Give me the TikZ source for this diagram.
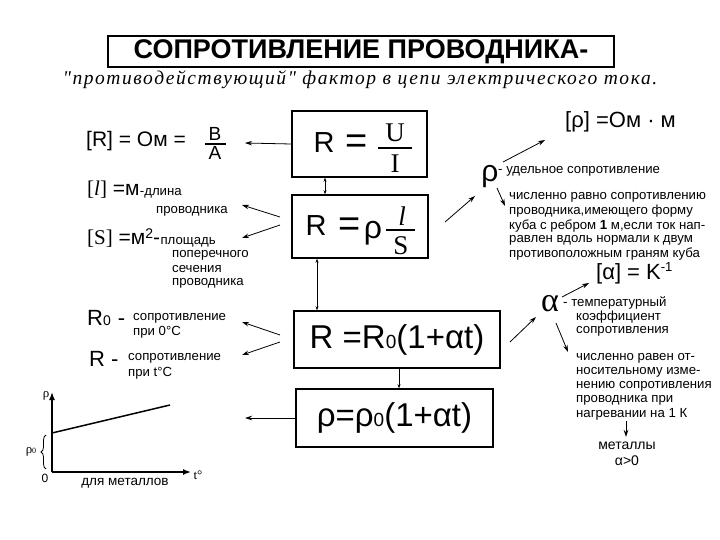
\documentclass[tikz,border=0pt]{standalone}
\usepackage{fontspec}
\setmainfont{Liberation Sans}
\newfontfamily\serif{Liberation Serif}
\newfontfamily\subfont[LetterSpace=8]{Liberation Serif}
\usetikzlibrary{arrows.meta,decorations.pathreplacing}
\newcommand\fs[1]{\fontsize{#1}{#1}\selectfont}
\begin{document}
\begin{tikzpicture}[x=1pt,y=-1pt,
  box/.style={draw,line width=1.4pt,inner sep=0pt},
  arr/.style={-{Stealth[length=7pt,width=4.5pt]},line width=0.8pt},
  sarr/.style={{Stealth[length=4pt,width=3pt]}-{Stealth[length=4pt,width=3pt]},line width=0.8pt},
  darr/.style={-{Stealth[length=4pt,width=3pt]},line width=0.8pt},
  small/.style={anchor=west,inner sep=0pt,font=\fs{13.2}},
  bigt/.style={inner sep=0pt,font=\fs{21}},
  fbar/.style={line width=1.6pt},
  axis/.style={line width=1.5pt,-{Latex[length=8pt,width=6pt]}}
]
\useasboundingbox (0,0) rectangle (720,540);

% title
\node[box,minimum width=506,minimum height=31,font=\bfseries\fs{27}] (title) at (361,51.5) {СОПРОТИВЛЕНИЕ ПРОВОДНИКА-};
\node[inner sep=0pt,font=\subfont\itshape\fs{19.5}] (sub) at (360,80) {"противодействующий" фактор в цепи электрического тока.};

% boxes
\node[box,minimum width=135,minimum height=66] (b1) at (359.5,144) {};
\node[inner sep=0pt,font=\fs{29}] (b1R) at (324,143) {R};
\node[inner sep=0pt,font=\fs{38}] (b1eq) at (357,144) {=};
\node[inner sep=0pt,font=\serif\fs{27}] (b1U) at (395,133) {U};
\node[inner sep=0pt,font=\serif\fs{27}] (b1I) at (395,164) {I};
\draw[fbar] (378,148) coordinate (f1a) -- (412,148) coordinate (f1b);

\node[box,minimum width=136,minimum height=63] (b2) at (360,226.5) {};
\node[inner sep=0pt,font=\fs{29}] (b2R) at (316,226) {R};
\node[inner sep=0pt,font=\fs{38}] (b2eq) at (350,227) {=};
\node[inner sep=0pt,font=\fs{32}] (b2rho) at (373,233) {ρ};
\node[inner sep=0pt,font=\serif\itshape\fs{27}] (b2l) at (402,216) {l};
\node[inner sep=0pt,font=\serif\fs{27}] (b2S) at (401,246) {S};
\draw[fbar] (386,230) coordinate (f2a) -- (415,230) coordinate (f2b);

\node[box,minimum width=206,minimum height=57,font=\fs{33}] (b3) at (397,339.5) {R =R{\fs{19}0}(1+αt)};
\node[box,minimum width=197,minimum height=58,font=\fs{33}] (b4) at (394.5,418) {ρ=ρ{\fs{19}0}(1+αt)};

\draw[sarr] ([xshift=-34.5pt]b1.south) -- ([xshift=-35pt]b2.north);
\draw[sarr] ([xshift=-43pt]b2.south) -- ([xshift=-80pt]b3.north);
\draw[darr] ([xshift=2pt]b3.south) -- ([xshift=4.5pt]b4.north);

% left side
\node[bigt,anchor=west] (Ru) at (86,141) {[R] = Ом =};
\node[inner sep=0pt,font=\fs{19}] (uB) at (215,134) {В};
\node[inner sep=0pt,font=\fs{19}] (uA) at (215,153) {А};
\draw[line width=1.2pt] (205,144) coordinate (f3a) -- (226,144) coordinate (f3b);
\coordinate (a1) at (245,143);
\draw[arr] (b1.west) -- (a1);

\node[bigt,anchor=base west] (lu) at (87,196) {{\serif[{\itshape l}]} =м};
\node[small,anchor=base west] (lu2) at (lu.base east) {-длина};
\node[small] (lu3) at (156,211) {проводника};
\node[bigt,anchor=base west] (Su) at (87,244) {{\serif[S]} =м\raisebox{6pt}{\fs{14}2}-};
\node[small,anchor=base west] (Su2) at (Su.base east) {площадь};
\node[small] (Su3) at (172,255) {поперечного};
\node[small] (Su4) at (172,269) {сечения};
\node[small] (Su5) at (172,283) {проводника};
\coordinate (s1) at (280,217);
\coordinate (s2) at (280,225);
\coordinate (a2) at (242,205);
\coordinate (a3) at (242,238);
\draw[arr] (s1) -- (a2);
\draw[arr] (s2) -- (a3);

\node[inner sep=0pt,font=\fs{22},anchor=base west] (R0) at (87,325) {R{\fs{14}0}\hspace{7pt}-};
\node[small] (R0a) at (133,318) {сопротивление};
\node[small] (R0b) at (133,332) {при 0°С};
\node[inner sep=0pt,font=\fs{22},anchor=base west] (Rt) at (89,366) {R\hspace{6pt}-};
\node[small] (Rta) at (128,358) {сопротивление};
\node[small] (Rtb) at (128,373) {при t°C};
\coordinate (s3) at (280,335);
\coordinate (s4) at (280,342);
\coordinate (a4) at (242,322);
\coordinate (a5) at (242,355);
\draw[arr] (s3) -- (a4);
\draw[arr] (s4) -- (a5);

% graph
\coordinate (O) at (52,472);
\coordinate (yt) at (52,392);
\coordinate (xt) at (191,472);
\draw[axis] (O) -- (yt);
\draw[axis] (O) -- (xt);
\coordinate (g1) at (52,433);
\coordinate (g2) at (170,405);
\draw[line width=1.5pt] (g1) -- (g2);
\coordinate (br1) at (46,469);
\coordinate (br2) at (46,435);
\draw[line width=0.8pt,decorate,decoration={brace,amplitude=5pt}] (br1) -- (br2);
\node[inner sep=0pt,font=\serif\fs{13}] (gr) at (46,396) {ρ};
\node[inner sep=0pt,font=\serif\fs{13}] (gr0) at (31,452) {ρ{\fs{8}0}};
\node[inner sep=0pt,font=\fs{12}] (g0) at (45,478) {0};
\node[inner sep=0pt,font=\serif\fs{13}] (gt) at (198,475) {t°};
\node[inner sep=0pt,font=\fs{13.5}] (gm) at (125,483) {для металлов};
\coordinate (a6) at (245,418);
\draw[arr] (b4.west) -- (a6);

% right side: rho
\node[inner sep=0pt,font=\fs{22},anchor=west] (rhou) at (565,122) {[ρ] =Ом · м};
\node[inner sep=0pt,font=\fs{30}] (rho) at (490,177) {ρ};
\node[small] (rhot) at (498,171) {- удельное сопротивление};
\node[small] (rp1) at (509,197) {численно равно сопротивлению};
\node[small] (rp2) at (509,211) {проводника,имеющего форму};
\node[small] (rp3) at (509,226) {куба с ребром {\bfseries 1} м,если ток нап-};
\node[small] (rp4) at (509,240) {равлен вдоль нормали к двум};
\node[small] (rp5) at (509,254) {противоположным граням куба};
\coordinate (s5) at (445,222);
\coordinate (e5) at (475,196);
\draw[arr] (s5) -- (e5);
\coordinate (s6) at (503,162);
\coordinate (e6) at (545,140);
\draw[arr] (s6) -- (e6);
\coordinate (s7) at (497,188);
\coordinate (e7) at (505,206);
\draw[arr] (s7) -- (e7);

% right side: alpha
\node[inner sep=0pt,font=\fs{22},anchor=west] (alu) at (596,273) {[α] = K\raisebox{8pt}{\fs{13}-1}};
\node[inner sep=0pt,font=\serif\fs{34}] (al) at (550,304) {α};
\node[small] (alt1) at (563,303) {- температурный};
\node[small] (alt2) at (576,317) {коэффициент};
\node[small] (alt3) at (576,331) {сопротивления};
\node[small] (ap1) at (576,358) {численно равен от-};
\node[small] (ap2) at (576,372) {носительному изме-};
\node[small] (ap3) at (576,386) {нению сопротивления};
\node[small] (ap4) at (576,400) {проводника при};
\node[small] (ap5) at (576,414) {нагревании на 1 К};
\coordinate (s8) at (510,342);
\coordinate (e8) at (536,317);
\draw[arr] (s8) -- (e8);
\coordinate (s9) at (562,297);
\coordinate (e9) at (589,283);
\draw[arr] (s9) -- (e9);
\coordinate (s10) at (556,323);
\coordinate (e10) at (568,352);
\draw[arr] (s10) -- (e10);
\coordinate (s11) at (626,421);
\coordinate (e11) at (626,437);
\draw[arr] (s11) -- (e11);
\node[inner sep=0pt,font=\fs{14}] (met) at (627,446) {металлы};
\node[inner sep=0pt,font=\fs{14}] (met2) at (627,461) {α>0};
\end{tikzpicture}
\end{document}
